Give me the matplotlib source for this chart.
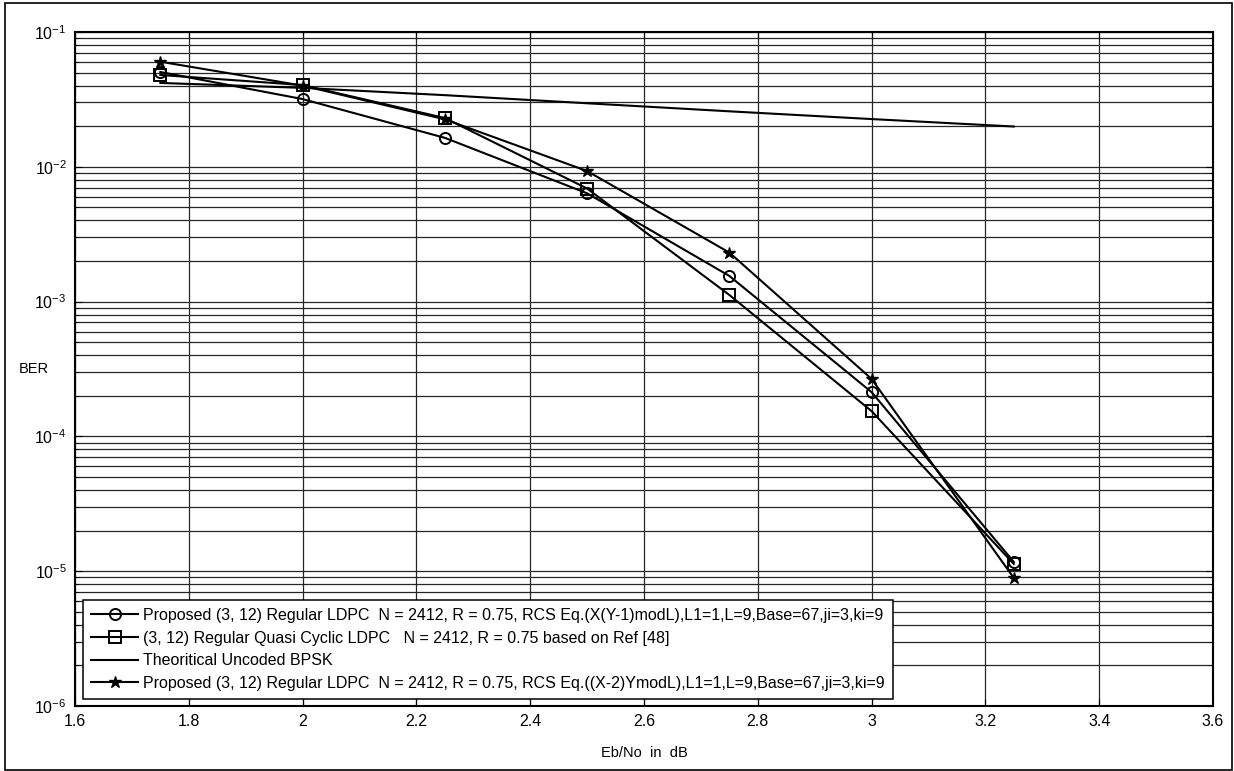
import matplotlib
matplotlib.use("Agg")
from matplotlib import pyplot as plt
from matplotlib.patches import Rectangle
from matplotlib.ticker import FuncFormatter, LogLocator, NullFormatter

plt.rcParams['font.family'] = ['Liberation Sans', 'DejaVu Sans']
plt.rcParams['mathtext.default'] = 'regular'

# Eb/No points (dB)
ebno = [1.75, 2.0, 2.25, 2.5, 2.75, 3.0, 3.25]

# BER values
ber_xy1 = [0.0505, 0.0318, 0.0164, 0.00636, 0.00155, 2.13e-4, 1.17e-5]   # circles
ber_qc = [0.048, 0.0404, 0.0230, 0.0069, 0.00112, 1.54e-4, 1.13e-5]      # squares
ber_bpsk = [0.0419, 0.0385, 0.0340, 0.0296, 0.0258, 0.0226, 0.0199]      # plain line
ber_x2y = [0.0602, 0.0400, 0.0225, 0.0093, 0.00231, 2.67e-4, 8.9e-6]     # stars

labels = [
    "Proposed (3, 12) Regular LDPC  N = 2412, R = 0.75, RCS Eq.(X(Y-1)modL),L1=1,L=9,Base=67,ji=3,ki=9",
    "(3, 12) Regular Quasi Cyclic LDPC   N = 2412, R = 0.75 based on Ref [48]",
    "Theoritical Uncoded BPSK",
    "Proposed (3, 12) Regular LDPC  N = 2412, R = 0.75, RCS Eq.((X-2)YmodL),L1=1,L=9,Base=67,ji=3,ki=9",
]

xticks = [1.6, 1.8, 2.0, 2.2, 2.4, 2.6, 2.8, 3.0, 3.2, 3.4, 3.6]

fig = plt.figure(figsize=(12.34, 7.71), dpi=100)
ax = fig.add_axes([75/1234, 1-706/771, (1213-75)/1234, (706-32)/771])

lw = 1.5
ax.semilogy(ebno, ber_xy1, color='black', lw=lw, marker='o', ms=8, mfc='none', mew=1.4, label=labels[0])
ax.semilogy(ebno, ber_qc, color='black', lw=lw, marker='s', ms=8, mfc='none', mew=1.4, label=labels[1])
ax.semilogy(ebno, ber_bpsk, color='black', lw=lw, label=labels[2])
ax.semilogy(ebno, ber_x2y, color='black', lw=lw, marker='*', ms=9, mfc='black', label=labels[3])

ax.set_xlim(1.6, 3.6)
ax.set_ylim(1e-6, 1e-1)
ax.set_xticks(xticks)
ax.xaxis.set_major_formatter(FuncFormatter(lambda v, p: '%g' % v))
ax.yaxis.set_major_locator(LogLocator(base=10, numticks=10))
ax.yaxis.set_minor_locator(LogLocator(base=10, subs=range(2, 10), numticks=20))
ax.yaxis.set_minor_formatter(NullFormatter())

ax.grid(True, which='major', axis='both', color='0.15', lw=0.9, ls='-')
ax.grid(True, which='minor', axis='y', color='0.15', lw=0.9, ls='-')
ax.tick_params(which='both', direction='in', top=True, right=True, labelsize=11.5, pad=6)
ax.tick_params(which='major', length=5)
ax.tick_params(which='minor', length=3)
for s in ax.spines.values():
    s.set_linewidth(1.5)

ax.set_xlabel('Eb/No  in  dB', fontsize=10.5, labelpad=12)
ax.set_ylabel('BER', fontsize=10.5, rotation=0, va='center', ha='center')
ax.yaxis.set_label_coords(-0.036, 0.5)

leg = ax.legend(loc='lower left', bbox_to_anchor=(0.007, 0.0104), borderaxespad=0,
                fontsize=11.5, fancybox=False, edgecolor='black', framealpha=1,
                handlelength=2.95, handletextpad=0.32, borderpad=0.5, labelspacing=0.48)
leg.get_frame().set_linewidth(1.1)

fig.patches.append(Rectangle((0.004, 0.001), 0.994, 0.995, transform=fig.transFigure,
                             fill=False, edgecolor='black', lw=1.2))

plt.savefig("out.png", dpi=100)
